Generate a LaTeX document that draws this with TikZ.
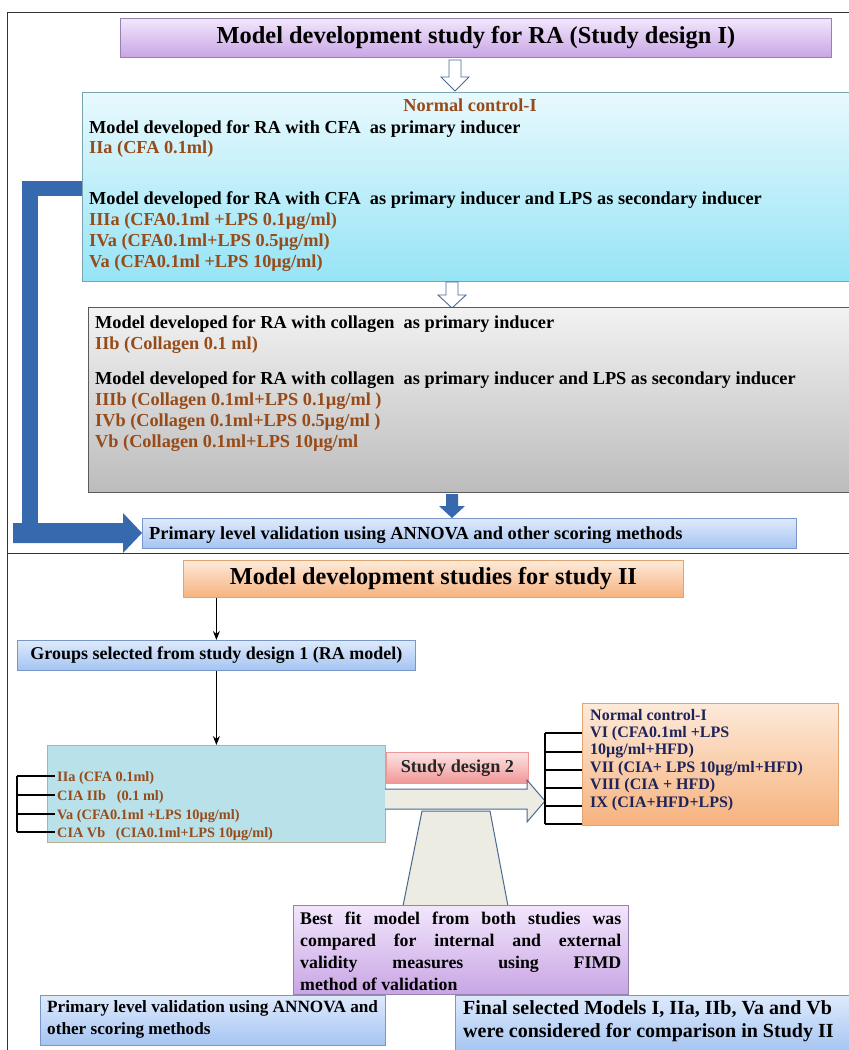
\documentclass[tikz,border=0pt]{standalone}
\usepackage{fontspec}
\setmainfont{Liberation Serif}
\usetikzlibrary{shadings,arrows.meta}
\definecolor{brownT}{RGB}{150,75,25}
\definecolor{navyT}{RGB}{30,35,90}
\definecolor{purTop}{RGB}{242,230,252}
\definecolor{purBot}{RGB}{200,165,228}
\definecolor{purLine}{RGB}{150,130,175}
\definecolor{cyTop}{RGB}{232,249,253}
\definecolor{cyBot}{RGB}{150,228,246}
\definecolor{cyLine}{RGB}{120,165,175}
\definecolor{grTop}{RGB}{242,242,242}
\definecolor{grBot}{RGB}{188,188,188}
\definecolor{grLine}{RGB}{90,90,90}
\definecolor{blTop}{RGB}{222,234,252}
\definecolor{blBot}{RGB}{165,196,242}
\definecolor{blLine}{RGB}{120,150,200}
\definecolor{orTop}{RGB}{253,234,218}
\definecolor{orBot}{RGB}{246,178,125}
\definecolor{orLine}{RGB}{225,165,115}
\definecolor{pkTop}{RGB}{253,228,228}
\definecolor{pkBot}{RGB}{240,150,150}
\definecolor{cy2}{RGB}{185,225,233}
\definecolor{cy2Line}{RGB}{185,175,150}
\definecolor{bigBlue}{RGB}{55,105,175}
\definecolor{holFill}{RGB}{236,236,226}
\definecolor{holLine}{RGB}{75,105,145}
\newcommand\myfs[2]{\fontsize{#1}{#2}\selectfont}
\newcommand\jline[1]{\makebox[321pt][s]{#1}}
\begin{document}
\begin{tikzpicture}[x=1pt,y=-1pt,
  boxbase/.style={rectangle, inner sep=0pt, anchor=north west, line width=0.8pt},
  purbox/.style={boxbase, draw=purLine, top color=purTop, bottom color=purBot},
  cybox/.style={boxbase, draw=cyLine, top color=cyTop, bottom color=cyBot},
  grbox/.style={boxbase, draw=grLine, line width=1.2pt, top color=grTop, bottom color=grBot},
  blbox/.style={boxbase, draw=blLine, top color=blTop, bottom color=blBot},
  orbox/.style={boxbase, draw=orLine, top color=orTop, bottom color=orBot},
  pkbox/.style={boxbase, draw=pkBot, top color=pkTop, bottom color=pkBot},
  cy2box/.style={boxbase, draw=cy2Line, fill=cy2},
  txt/.style={inner sep=0pt, anchor=base west, font=\bfseries\myfs{18.3}{21}},
  brown/.style={txt, text=brownT},
  small/.style={brown, font=\bfseries\myfs{14.3}{16}},
  navy/.style={txt, text=navyT, font=\bfseries\myfs{16}{17}},
  hollow/.style={draw=holLine, line width=0.9pt, fill=white, line join=miter},
  blockarr/.style={draw=holLine, line width=1pt, fill=holFill},
  blk/.style={draw=black, line width=1.2pt, -{Stealth[length=9pt,width=7pt]}},
  frame/.style={draw=black!80, line width=0.8pt},
  bracket/.style={draw=black, line width=1.6pt}]
\useasboundingbox (0,0) rectangle (849,1050);
\fill[white] (0,0) rectangle (849,1050);

% frame
\draw[frame] (7,12) -- (849,12);
\draw[frame] (7,12) -- (7,1050);
\draw[frame] (7,553) -- (849,553);

% ---------- Study design I ----------
\node[purbox, minimum width=711pt, minimum height=39pt] (t1) at (120,18) {};
\node[font=\bfseries\myfs{24.4}{26}] (t1txt) at (t1.center) {Model development study for RA (Study design I)};

% hollow arrow 1
\draw[hollow] (449,60) -- (461,60) -- (461,77) -- (469,77) -- (455,91) -- (441,77) -- (449,77) -- cycle;

% big blue L arrow (behind boxes)
\fill[bigBlue] (22,181) rectangle (84,196);
\fill[bigBlue] (22,181) rectangle (38,530);
\fill[bigBlue] (13,523) -- (123,523) -- (123,513) -- (142,533) -- (123,553) -- (123,543) -- (13,543) -- cycle;

\node[cybox, minimum width=769pt, minimum height=189pt] (cy) at (82,92) {};
\node[brown, anchor=base] (nc1) at (470,111) {Normal control-I};
\node[txt] (a1) at (89,133) {Model developed for RA with CFA\ \ as primary inducer};
\node[brown] (a2) at (89,153) {IIa (CFA 0.1ml)};
\node[txt] (a3) at (89,204) {Model developed for RA with CFA\ \ as primary inducer and LPS as secondary inducer};
\node[brown] (a4) at (89,225) {IIIa (CFA0.1ml +LPS 0.1µg/ml)};
\node[brown] (a5) at (89,246) {IVa (CFA0.1ml+LPS 0.5µg/ml)};
\node[brown] (a6) at (89,267) {Va (CFA0.1ml +LPS 10µg/ml)};

% hollow arrow 2
\draw[hollow] (446,282) -- (458,282) -- (458,295) -- (466,295) -- (452,308) -- (438,295) -- (446,295) -- cycle;

\node[grbox, minimum width=763pt, minimum height=185pt] (gr) at (88,307) {};
\node[txt] (b1) at (95,328) {Model developed for RA with collagen\ \ as primary inducer};
\node[brown] (b2) at (95,349) {IIb (Collagen 0.1 ml)};
\node[txt] (b3) at (95,384) {Model developed for RA with collagen\ \ as primary inducer and LPS as secondary inducer};
\node[brown] (b4) at (95,405) {IIIb (Collagen 0.1ml+LPS 0.1µg/ml )};
\node[brown] (b5) at (95,426) {IVb (Collagen 0.1ml+LPS 0.5µg/ml )};
\node[brown] (b6) at (95,447) {Vb (Collagen 0.1ml+LPS 10µg/ml};

% blue down arrow
\fill[bigBlue] (446,494) -- (458,494) -- (458,506) -- (465,506) -- (452,518) -- (439,506) -- (446,506) -- cycle;

\node[blbox, minimum width=654pt, minimum height=30pt] (pv1) at (142,518) {};
\node[txt, font=\bfseries\myfs{18.4}{20}] (pv1txt) at (149,539) {Primary level validation using ANNOVA and other scoring methods};

% ---------- Study II ----------
\node[orbox, minimum width=500pt, minimum height=37pt] (t2) at (183,560) {};
\node[font=\bfseries\myfs{24.3}{26}] (t2txt) at (t2.center) {Model development studies for study II};

\node[blbox, minimum width=398pt, minimum height=30pt] (grp) at (17,640) {};
\node[font=\bfseries\myfs{18}{20}] (grptxt) at (grp.center) {Groups selected from study design 1 (RA model)};
\draw[blk] (t2.south -| grp.north) -- (grp.north);

\node[cy2box, minimum width=338pt, minimum height=97pt] (cy2) at (47,745) {};
\draw[blk] (grp.south) -- (cy2.north);

% left bracket
\draw[bracket] (17,776) -- (17,832);
\foreach \yy in {776,795,814,832} \draw[bracket] (17,\yy) -- (55,\yy);
\node[small] (c1) at (57,781) {IIa (CFA 0.1ml)};
\node[small] (c2) at (57,800) {CIA IIb\ \ \ (0.1 ml)};
\node[small] (c3) at (57,819) {Va (CFA0.1ml +LPS 10µg/ml)};
\node[small] (c4) at (57,837) {CIA Vb\ \ \ (CIA0.1ml+LPS 10µg/ml)};

% study design 2
\node[pkbox, minimum width=142pt, minimum height=31pt] (sd2) at (386,752) {};
\node[font=\bfseries\myfs{18.2}{20}, text=black!85] (sd2txt) at (sd2.center) {Study design 2};

% block arrow right
\draw[blockarr] (385,789) -- (527,789) -- (527,780) -- (545,801) -- (527,822) -- (527,809) -- (385,809);

% trapezoid
\draw[blockarr] (422,811) -- (490,811) -- (508,906) -- (403,906) -- cycle;

% right bracket
\draw[bracket] (545,733) -- (545,824);
\foreach \yy in {733,752,770,788,806,824} \draw[bracket] (545,\yy) -- (582,\yy);

\node[orbox, minimum width=256pt, minimum height=122pt] (or2) at (582,703) {};
\node[navy] (d1) at (590,720) {Normal control-I};
\node[navy] (d2) at (590,737) {VI (CFA0.1ml +LPS};
\node[navy] (d3) at (590,754) {10µg/ml+HFD)};
\node[navy] (d4) at (590,772) {VII (CIA+ LPS 10µg/ml+HFD)};
\node[navy] (d5) at (590,789) {VIII (CIA + HFD)};
\node[navy] (d6) at (590,807) {IX (CIA+HFD+LPS)};

% best fit box
\node[purbox, minimum width=335pt, minimum height=89pt] (bf) at (293,905) {};
\node[inner sep=0pt, anchor=north west, align=left, font=\bfseries\myfs{17.8}{22}] (bftxt) at (300,912) {\jline{Best fit model from both studies was}\\\jline{compared for internal and external}\\\jline{validity measures using FIMD}\\method of validation};

% bottom boxes
\node[blbox, minimum width=345pt, minimum height=50pt] (pv2) at (40,995) {};
\node[inner sep=0pt, anchor=north west, align=left, font=\bfseries\myfs{17.2}{22}] (pv2txt) at (47,1000) {Primary level validation using ANNOVA and\\other scoring methods};

\node[blbox, minimum width=396pt, minimum height=57pt] (fin) at (455,995) {};
\node[inner sep=0pt, anchor=north west, align=left, font=\bfseries\myfs{20}{23}] (fintxt) at (463,1000) {Final selected Models I, IIa, IIb, Va and Vb\\were considered for comparison in Study II};
\end{tikzpicture}
\end{document}
